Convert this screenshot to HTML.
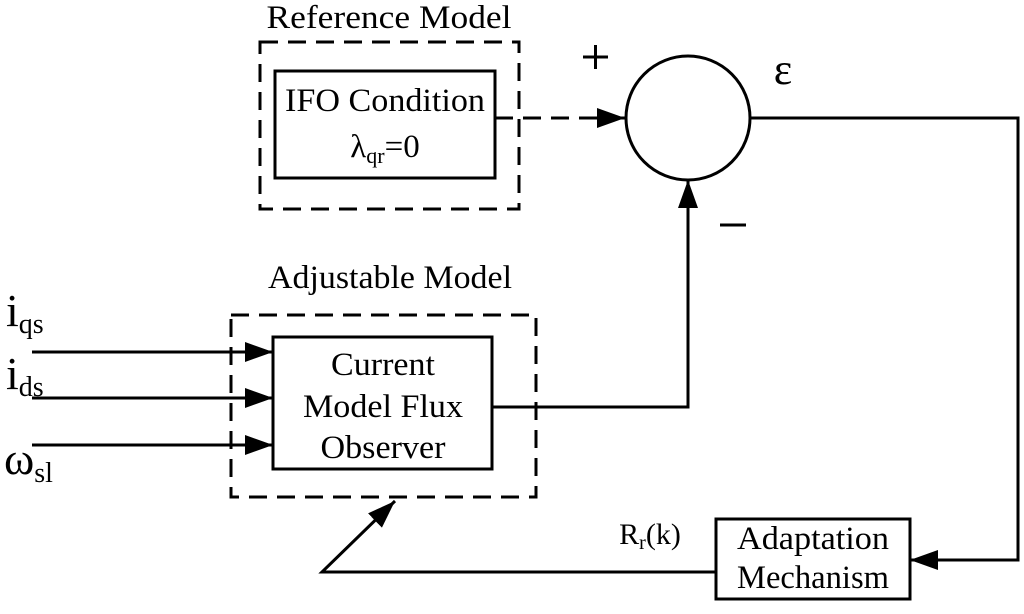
<!DOCTYPE html>
<html><head><style>body{margin:0;background:#fff}</style></head><body>
<svg width="1024" height="609" viewBox="0 0 1024 609" xmlns="http://www.w3.org/2000/svg" font-family="Liberation Serif, serif" fill="#000">
<defs><marker id="b" markerWidth="28" markerHeight="20" refX="28" refY="10" orient="auto" markerUnits="userSpaceOnUse"><path d="M0,0L28,10L0,20z"/></marker></defs>
<g stroke="#000" stroke-width="3" fill="none">
<rect x="260" y="42" width="259" height="167" stroke-dasharray="18,10"/>
<rect x="275" y="71" width="220" height="107"/>
<line x1="495" y1="118" x2="625" y2="118" stroke-dasharray="18,10" marker-end="url(#b)"/>
<circle cx="688" cy="118" r="62"/>
<polyline points="750,118 1018,118 1018,560 910,560" marker-end="url(#b)"/>
<rect x="231" y="315" width="305" height="182" stroke-dasharray="18,10"/>
<rect x="273" y="337" width="219" height="132"/>
<polyline points="492,407 688,407 688,180" marker-end="url(#b)"/>
<line x1="32" y1="352" x2="273" y2="352" marker-end="url(#b)"/>
<line x1="32" y1="398" x2="273" y2="398" marker-end="url(#b)"/>
<line x1="32" y1="445" x2="273" y2="445" marker-end="url(#b)"/>
<rect x="716" y="519" width="194" height="80"/>
<polyline points="716,572 322,572 395,501" marker-end="url(#b)"/>
<line x1="583" y1="57" x2="608" y2="57"/><line x1="595.5" y1="45" x2="595.5" y2="69"/>
<line x1="720" y1="225" x2="746" y2="225"/>
</g>
<g font-size="33" text-anchor="middle">
<text x="389" y="28" textLength="245" lengthAdjust="spacingAndGlyphs">Reference Model</text>
<text x="385" y="111" textLength="200" lengthAdjust="spacingAndGlyphs">IFO Condition</text>
<text x="385" y="157">λ<tspan font-size="22" dy="6">qr</tspan><tspan dy="-6">=0</tspan></text>
<text x="390" y="288" textLength="244" lengthAdjust="spacingAndGlyphs">Adjustable Model</text>
<text x="383" y="375" textLength="104" lengthAdjust="spacingAndGlyphs">Current</text>
<text x="383" y="417" textLength="160" lengthAdjust="spacingAndGlyphs">Model Flux</text>
<text x="383" y="458" textLength="125" lengthAdjust="spacingAndGlyphs">Observer</text>
<text x="813" y="549" textLength="152" lengthAdjust="spacingAndGlyphs">Adaptation</text>
<text x="813" y="588" textLength="152" lengthAdjust="spacingAndGlyphs">Mechanism</text>
<text x="650" y="544" font-size="30">R<tspan font-size="20" dy="5">r</tspan><tspan dy="-5">(k)</tspan></text>
<text x="783" y="84" font-size="44">ε</text>
</g>
<g font-size="46">
<text x="6" y="326">i<tspan font-size="28" dy="7">qs</tspan></text>
<text x="6" y="389">i<tspan font-size="28" dy="7">ds</tspan></text>
<text x="4" y="474">ω<tspan font-size="28" dy="8">sl</tspan></text>
</g>
</svg>
</body></html>
